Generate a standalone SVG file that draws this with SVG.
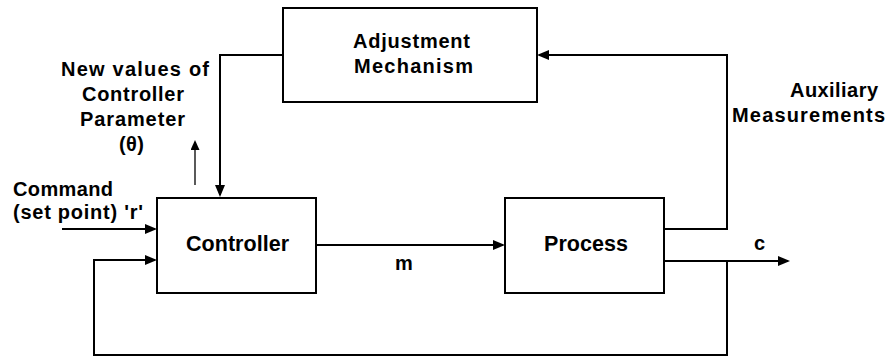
<svg xmlns="http://www.w3.org/2000/svg" width="887" height="356" viewBox="0 0 887 356">
  <style>
    .box { fill: #ffffff; stroke: #000000; stroke-width: 2; }
    .wire { fill: none; stroke: #000000; stroke-width: 2; }
    .thin { fill: none; stroke: #000000; stroke-width: 1.3; }
    .lbl { font-family: "Liberation Sans", Arial, sans-serif; font-weight: bold; font-size: 20px; fill: #000000; }
    .big { font-size: 21.5px; }
  </style>
  <defs>
    <marker id="head" viewBox="0 0 12 10" refX="10" refY="5" markerWidth="12" markerHeight="10" markerUnits="userSpaceOnUse" orient="auto">
      <path d="M0,0 L12,5 L0,10 z" fill="#000000"/>
    </marker>
    <marker id="headSmall" viewBox="0 0 10 9" refX="8" refY="4.5" markerWidth="10" markerHeight="9" markerUnits="userSpaceOnUse" orient="auto">
      <path d="M0,0 L10,4.5 L0,9 z" fill="#000000"/>
    </marker>
  </defs>

  <!-- connectors -->
  <g id="connectors">
    <!-- adjustment output down to controller -->
    <path class="wire" d="M283,55 H220 V195" marker-end="url(#head)"/>
    <!-- parameter indicator -->
    <path class="thin" d="M195,185 V142" marker-end="url(#headSmall)"/>
    <!-- command input -->
    <path class="wire" d="M62,229 H155" marker-end="url(#head)"/>
    <!-- feedback loop -->
    <path class="wire" d="M727,261 V355 H94 V260 H155" marker-end="url(#head)"/>
    <!-- manipulated variable m -->
    <path class="wire" d="M316,245 H503" marker-end="url(#head)"/>
    <!-- auxiliary measurements -->
    <path class="wire" d="M664,229 H727 V55 H539" marker-end="url(#head)"/>
    <!-- controlled output c -->
    <path class="wire" d="M664,261 H788" marker-end="url(#head)"/>
  </g>

  <!-- nodes -->
  <g id="adjustment">
    <rect class="box" x="283" y="8" width="254" height="94"/>
    <text class="lbl" x="353" y="48" textLength="117" lengthAdjust="spacing">Adjustment</text>
    <text class="lbl" x="354" y="73" textLength="119" lengthAdjust="spacing">Mechanism</text>
  </g>

  <g id="controller">
    <rect class="box" x="157" y="198" width="159" height="95"/>
    <text class="lbl big" x="186" y="251" textLength="103" lengthAdjust="spacing">Controller</text>
  </g>

  <g id="process">
    <rect class="box" x="505" y="198" width="159" height="95"/>
    <text class="lbl big" x="544" y="251" textLength="84" lengthAdjust="spacing">Process</text>
  </g>

  <!-- labels -->
  <g id="labels">
    <text class="lbl" x="61" y="76" textLength="148" lengthAdjust="spacing">New values of</text>
    <text class="lbl" x="82" y="101" textLength="102" lengthAdjust="spacing">Controller</text>
    <text class="lbl" x="80" y="126" textLength="105" lengthAdjust="spacing">Parameter</text>
    <text class="lbl" x="119" y="151" textLength="25" lengthAdjust="spacing">(θ)</text>
    <text class="lbl" x="13" y="196" textLength="100" lengthAdjust="spacing">Command</text>
    <text class="lbl" x="13" y="219" textLength="130" lengthAdjust="spacing">(set point) 'r'</text>
    <text class="lbl" x="395" y="270" textLength="17" lengthAdjust="spacing">m</text>
    <text class="lbl" x="754" y="250" textLength="10" lengthAdjust="spacing">c</text>
    <text class="lbl" x="790" y="97" textLength="88" lengthAdjust="spacing">Auxiliary</text>
    <text class="lbl" x="732" y="122" textLength="153" lengthAdjust="spacing">Measurements</text>
  </g>
</svg>
